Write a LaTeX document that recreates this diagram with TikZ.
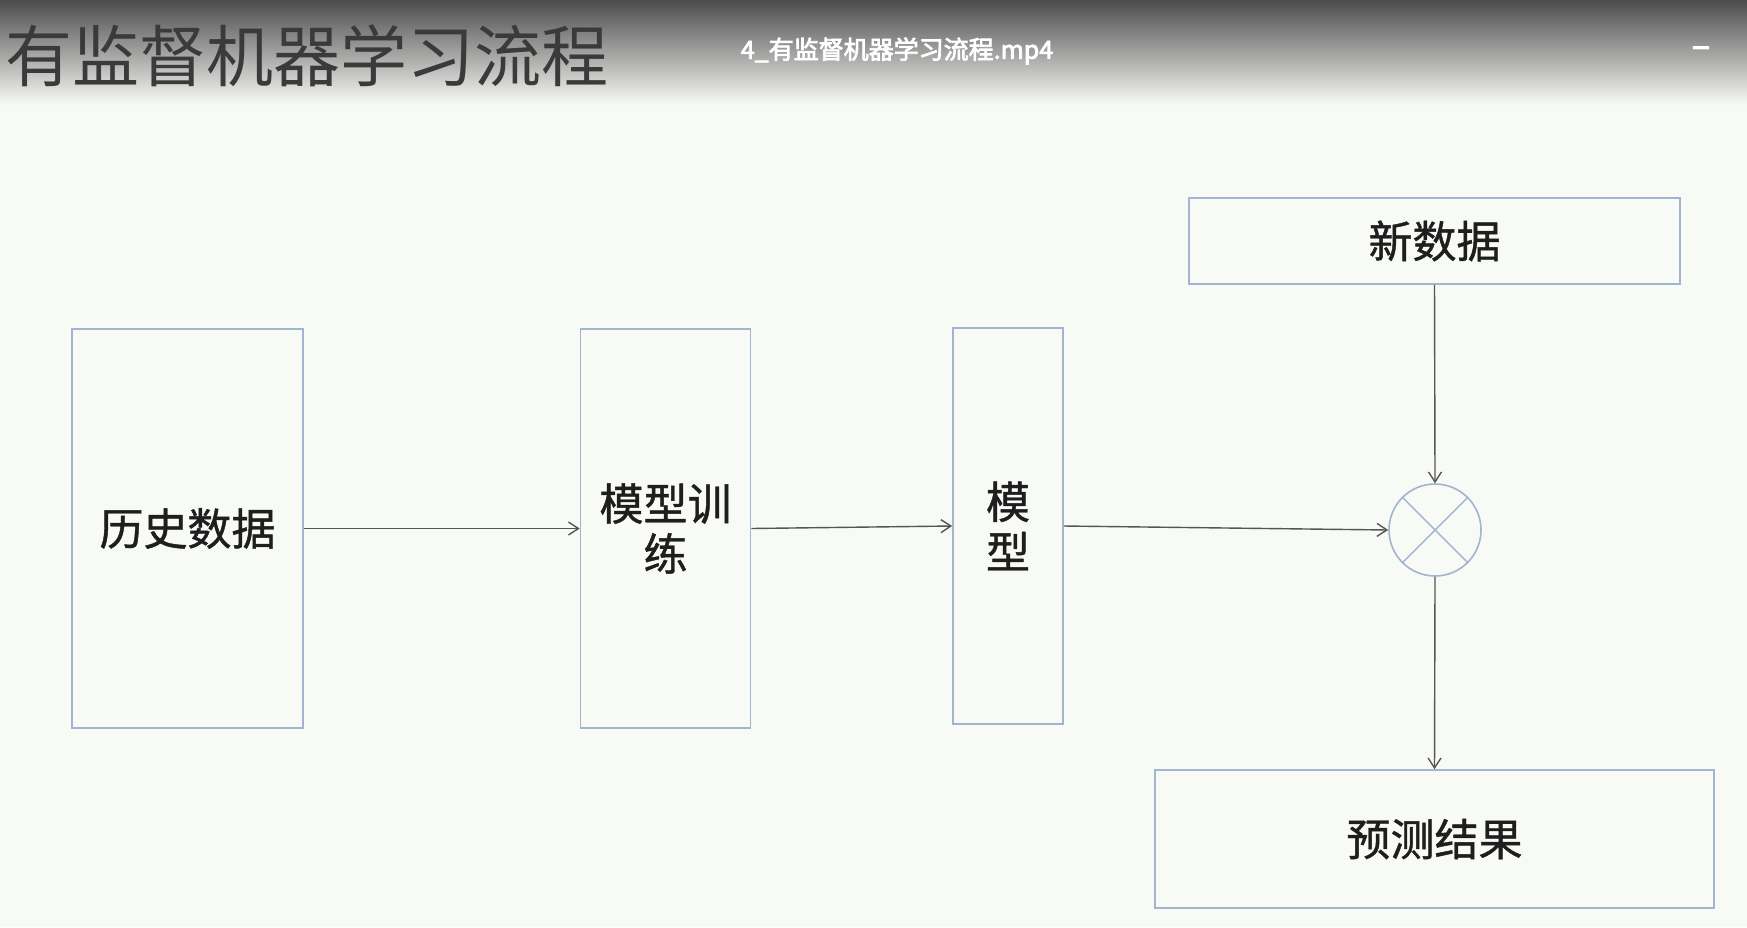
\documentclass[tikz,border=0pt]{standalone}
\usepackage{fontspec}
\setmainfont{Noto Sans CJK SC}
\newfontfamily\hdrfont{Noto Sans CJK SC}[FakeBold=3]
\newfontfamily\lblfont{Noto Sans CJK SC}[FakeBold=1]
\usetikzlibrary{arrows.meta}
\definecolor{bg}{HTML}{F8FAF6}
\definecolor{hdrtop}{HTML}{4C4C4C}
\definecolor{boxc}{HTML}{A3B4D0}
\definecolor{txt}{HTML}{1E1E1E}
\definecolor{ttl}{HTML}{3A3A3A}
\definecolor{arr}{HTML}{555555}
\begin{document}
\begin{tikzpicture}[x=1pt,y=-1pt,
  box/.style={draw=boxc, line width=1.6pt, fill=bg, rectangle, inner sep=0pt, text=txt,
    font=\lblfont\fontsize{44}{50}\selectfont, align=center},
  conn/.style={draw=arr, line width=1.4pt, -{Straight Barb[length=10pt,width=13pt,line width=1.4pt]}},
  plain/.style={draw=arr, line width=1.4pt}]
\useasboundingbox (0,0) rectangle (1747,927);
\fill[bg] (0,0) rectangle (1747,927);
\shade[top color=hdrtop, bottom color=bg] (0,0) rectangle (1747,105);
\node[anchor=west, text=ttl, font=\fontsize{67}{67}\selectfont, inner sep=0pt] (title) at (5,56) {有监督机器学习流程};
\node[text=white, font=\hdrfont\fontsize{25}{25}\selectfont, inner sep=0pt] (file) at (897,51) {4\_有监督机器学习流程.mp4};
\node[text=white, font=\hdrfont\fontsize{34}{34}\selectfont, inner sep=0pt] (dash) at (1701,52) {–};

\node[box, minimum width=231, minimum height=399] (hist) at (187.5,528.5) {历史数据};
\node[box, minimum width=170, minimum height=399] (train) at (665.5,528.5) {模型训\\练};
\node[box, minimum width=110, minimum height=396] (model) at (1008,526) {模\\型};
\node[box, minimum width=491, minimum height=86] (newd) at (1434.5,241) {新数据};
\node[box, minimum width=559, minimum height=138] (pred) at (1434.5,839) {预测结果};
\node[draw=boxc, line width=1.6pt, fill=bg, circle, minimum size=92, inner sep=0pt] (mult) at (1435,530) {};
\draw[draw=boxc, line width=1.4pt] (mult.45) -- (mult.225) (mult.135) -- (mult.315);

\draw[conn] (hist.east) -- (train.west);
\draw[conn] (train.east) -- (model.west);
\draw[conn] (model.east) -- (mult.west);
\draw[conn] (newd.south) -- (mult.north);
\draw[conn] (mult.south) -- (pred.north);
\end{tikzpicture}
\end{document}
